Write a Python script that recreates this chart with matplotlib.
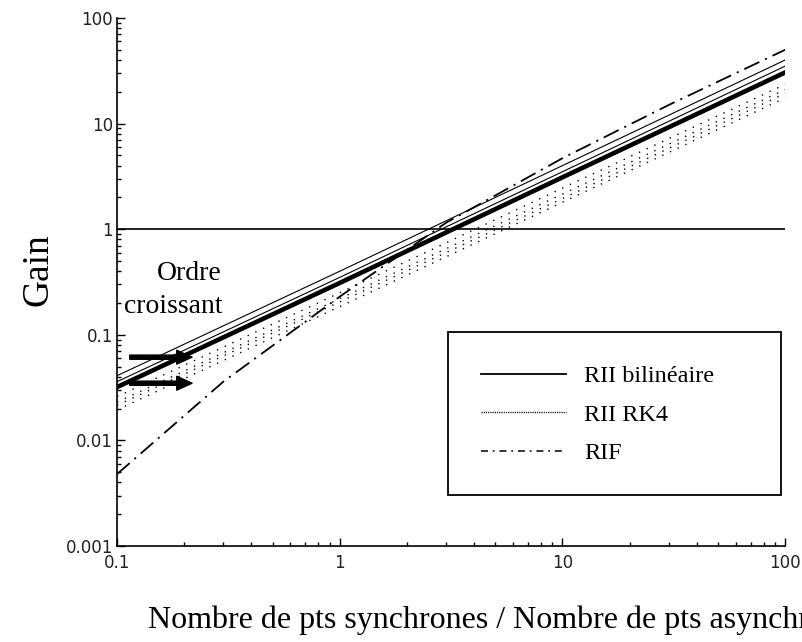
import matplotlib.pyplot as plt
from matplotlib.lines import Line2D
from matplotlib.patches import Rectangle

plt.rcParams['lines.scale_dashes'] = False

# --- Données (gain en fonction du rapport de points) ---
ratio = [0.1, 1, 10, 100]

# RII bilinéaire, ordres croissants
rii_bil_1 = [0.041, 0.40, 4.0, 40]
rii_bil_2 = [0.036, 0.35, 3.5, 35]
rii_bil_3 = [0.032, 0.31, 3.1, 30.5]

# RII RK4, ordres croissants
rii_rk4_1 = [0.026, 0.25, 2.45, 23.5]
rii_rk4_2 = [0.023, 0.22, 2.15, 21]
rii_rk4_3 = [0.0215, 0.205, 1.95, 19.3]
rii_rk4_4 = [0.0195, 0.185, 1.8, 17.5]

# RIF
ratio_rif = [0.1, 0.3, 1, 3, 10, 30, 100]
rif = [0.0048, 0.036, 0.23, 1.15, 4.7, 15, 50]

unite = [1, 1]
unite_x = [0.1, 100]

serif = 'Liberation Serif'

fig = plt.figure(figsize=(8.02, 6.42), dpi=100)
ax = fig.add_axes([0.146, 0.1495, 0.833, 0.8225])
ax.set_xscale('log')
ax.set_yscale('log')
ax.set_xlim(0.1, 100)
ax.set_ylim(0.001, 100)

# ligne de gain unité
ax.plot(unite_x, unite, color='black', lw=1.2)

# courbes
ax.plot(ratio, rii_bil_1, color='black', lw=0.8)
ax.plot(ratio, rii_bil_2, color='black', lw=0.8)
ax.plot(ratio, rii_bil_3, color='black', lw=3.3)

pointille = (0, (1.0, 5.1))
for serie in [rii_rk4_1, rii_rk4_2, rii_rk4_3, rii_rk4_4]:
    ax.plot(ratio, serie, color='black', lw=1.0, linestyle=pointille)

ax.plot(ratio_rif, rif, color='black', lw=1.3, linestyle=(0, (12, 4.5, 1.5, 4.5)))

# axes
for cote in ['top', 'right']:
    ax.spines[cote].set_visible(False)
for cote in ['left', 'bottom']:
    ax.spines[cote].set_linewidth(1.2)
ax.tick_params(which='both', direction='in', width=1.0, colors='black',
               labelcolor='#222222', labelsize=12)
ax.tick_params(which='major', length=6)
ax.tick_params(which='minor', length=3)
ax.tick_params(axis='x', pad=6)
ax.tick_params(axis='y', pad=3)
ax.set_xticks([0.1, 1, 10, 100])
ax.set_xticklabels(['0.1', '1', '10', '100'])
ax.set_yticks([0.001, 0.01, 0.1, 1, 10, 100])
ax.set_yticklabels(['0.001', '0.01', '0.1', '1', '10', '100'])
for lab in ax.get_xticklabels() + ax.get_yticklabels():
    lab.set_family('DejaVu Sans')

# texte "Ordre croissant" et flèches
ax.text(0.296, 0.383, 'Ordre', ha='right', va='center', fontsize=20, family=serif)
ax.text(0.296, 0.187, 'croissant', ha='right', va='center', fontsize=20, family=serif)
fleche = dict(arrowstyle='simple,head_length=0.55,head_width=0.5,tail_width=0.15',
              mutation_scale=20, color='black', shrinkA=0, shrinkB=0)
ax.annotate('', xy=(0.217, 0.0614), xytext=(0.114, 0.0614), arrowprops=fleche)
ax.annotate('', xy=(0.217, 0.0348), xytext=(0.114, 0.0348), arrowprops=fleche)

# cadre de légende
cadre = Rectangle((0.4955, 0.0966), 0.4985, 0.3084, transform=ax.transAxes,
                  facecolor='white', edgecolor='black', lw=1.3, zorder=5)
ax.add_patch(cadre)
poignees = [
    Line2D([], [], color='black', lw=1.3),
    Line2D([], [], color='black', lw=1.0, linestyle=(0, (0.8, 0.8))),
    Line2D([], [], color='black', lw=1.1, linestyle=(0, (5, 3.5, 1.3, 3.5))),
]
leg = ax.legend(poignees, ['RII bilinéaire', 'RII RK4', 'RIF'],
                loc='upper left', bbox_to_anchor=(481 / 802, 1 - 365 / 642),
                bbox_transform=fig.transFigure, frameon=False,
                prop={'family': serif, 'size': 17.5}, handlelength=3.5,
                handletextpad=0.75, labelspacing=0.68, borderpad=0,
                borderaxespad=0)
leg.set_zorder(6)

# titres des axes
fig.text(38 / 802, 1 - 270 / 642, 'Gain', rotation=90, ha='center', va='center',
         fontsize=27, family=serif)
fig.text(148 / 802, 1 - 620 / 642,
         'Nombre de pts synchrones / Nombre de pts asynchrones',
         ha='left', va='center', fontsize=23, family=serif)

fig.savefig('out.png', dpi=100)
